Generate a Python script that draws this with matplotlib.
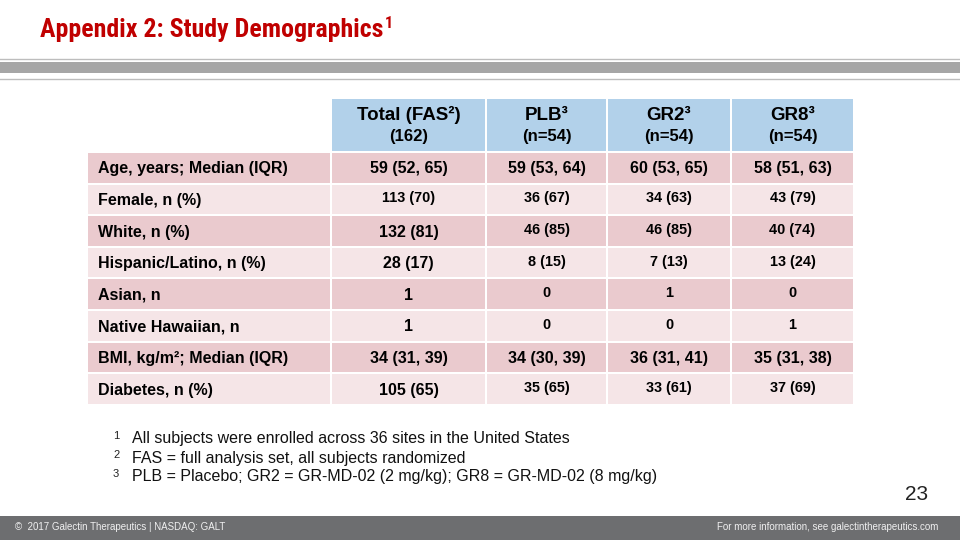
import matplotlib
matplotlib.use('Agg')
import matplotlib.pyplot as plt
from matplotlib.patches import Rectangle

plt.rcParams['font.family'] = ['Liberation Sans', 'DejaVu Sans']

# 表格数据
row_labels = ['Age, years; Median (IQR)', 'Female, n (%)', 'White, n (%)',
              'Hispanic/Latino, n (%)', 'Asian, n', 'Native Hawaiian, n',
              'BMI, kg/m²; Median (IQR)', 'Diabetes, n (%)']
col_heads = ['Total (FAS²)', 'PLB³', 'GR2³', 'GR8³']
col_subs = ['(162)', '(n=54)', '(n=54)', '(n=54)']
total_vals = ['59 (52, 65)', '113 (70)', '132 (81)', '28 (17)', '1', '1', '34 (31, 39)', '105 (65)']
plb_vals = ['59 (53, 64)', '36 (67)', '46 (85)', '8 (15)', '0', '0', '34 (30, 39)', '35 (65)']
gr2_vals = ['60 (53, 65)', '34 (63)', '46 (85)', '7 (13)', '1', '0', '36 (31, 41)', '33 (61)']
gr8_vals = ['58 (51, 63)', '43 (79)', '40 (74)', '13 (24)', '0', '1', '35 (31, 38)', '37 (69)']
big_rows_all = [0, 6]   # 这些行所有单元格都是大字号
footnotes = ['All subjects were enrolled across 36 sites in the United States',
             'FAS = full analysis set, all subjects randomized',
             'PLB = Placebo; GR2 = GR-MD-02 (2 mg/kg); GR8 = GR-MD-02 (8 mg/kg)']

RED = '#C00000'
BLUE = '#B2D1EA'
PINK_D = '#EACACE'
PINK_L = '#F5E5E7'

fig = plt.figure(figsize=(9.6, 5.4), dpi=100)
ax = fig.add_axes([0, 0, 1, 1])
ax.set_xlim(0, 960)
ax.set_ylim(540, 0)
ax.axis('off')

# 标题 + 上标
title = ax.text(40, 30, 'Appendix 2: Study Demographics', color=RED, fontsize=18.6,
                fontweight='bold', family='Roboto Condensed', va='center', ha='left')
fig.canvas.draw()
bb = title.get_window_extent()
x_end = ax.transData.inverted().transform((bb.x1, bb.y1))[0]
ax.text(x_end + 1, 23, '1', color=RED, fontsize=11.5, fontweight='bold',
        family='Roboto Condensed', va='center', ha='left')

# 标题下方灰色条
ax.plot([0, 960], [58.5, 58.5], color='#BDBDBD', lw=1)
ax.add_patch(Rectangle((0, 62), 960, 11, color='#A6A6A6', lw=0))
ax.plot([0, 960], [78.5, 78.5], color='#BDBDBD', lw=1)

# 表格
col_x = [88, 332, 487, 608, 732, 855]
head_top, head_bot = 99, 151
row_top = 153
pitch = 31.6
gap = 2

for j in range(4):
    x0, x1 = col_x[j + 1], col_x[j + 2] - gap
    ax.add_patch(Rectangle((x0, head_top), x1 - x0, head_bot - head_top, color=BLUE, lw=0))
    cx = (x0 + x1) / 2
    ax.text(cx, 115, col_heads[j], ha='center', va='center', fontsize=13.5, fontweight='bold')
    ax.text(cx, 137, col_subs[j], ha='center', va='center', fontsize=12, fontweight='bold')

columns = [total_vals, plb_vals, gr2_vals, gr8_vals]
for i, label in enumerate(row_labels):
    y0 = row_top + i * pitch
    h = pitch - gap
    color = PINK_D if i % 2 == 0 else PINK_L
    for j in range(5):
        x0, x1 = col_x[j], col_x[j + 1] - gap
        ax.add_patch(Rectangle((x0, y0), x1 - x0, h, color=color, lw=0))
    cy = y0 + h / 2
    ax.text(98, cy + 1, label, ha='left', va='center', fontsize=11.5, fontweight='bold')
    for j, vals in enumerate(columns):
        cx = (col_x[j + 1] + col_x[j + 2] - gap) / 2
        big = i in big_rows_all or (j == 0 and i != 1)
        if big:
            ax.text(cx, cy + 1, vals[i], ha='center', va='center', fontsize=11.5, fontweight='bold')
        else:
            ax.text(cx, cy - 1, vals[i], ha='center', va='center', fontsize=10.4, fontweight='bold')

# 脚注
for k, note in enumerate(footnotes):
    y = 439 + k * 19
    ax.text(113, y - 3, str(k + 1), ha='left', va='center', fontsize=8, color='#222222')
    ax.text(132, y, note, ha='left', va='center', fontsize=11.5, color='#111111')

# 页码
ax.text(928, 495, '23', ha='right', va='center', fontsize=15, color='#222222')

# 页脚
ax.add_patch(Rectangle((0, 516), 960, 24, color='#6D6E70', lw=0))
ax.text(15, 527, '©  2017 Galectin Therapeutics | NASDAQ: GALT', ha='left', va='center',
        fontsize=7, color='#F0F0F0')
ax.text(938, 527, 'For more information, see galectintherapeutics.com', ha='right',
        va='center', fontsize=7, color='#F0F0F0')

fig.savefig('out.png', dpi=100)
